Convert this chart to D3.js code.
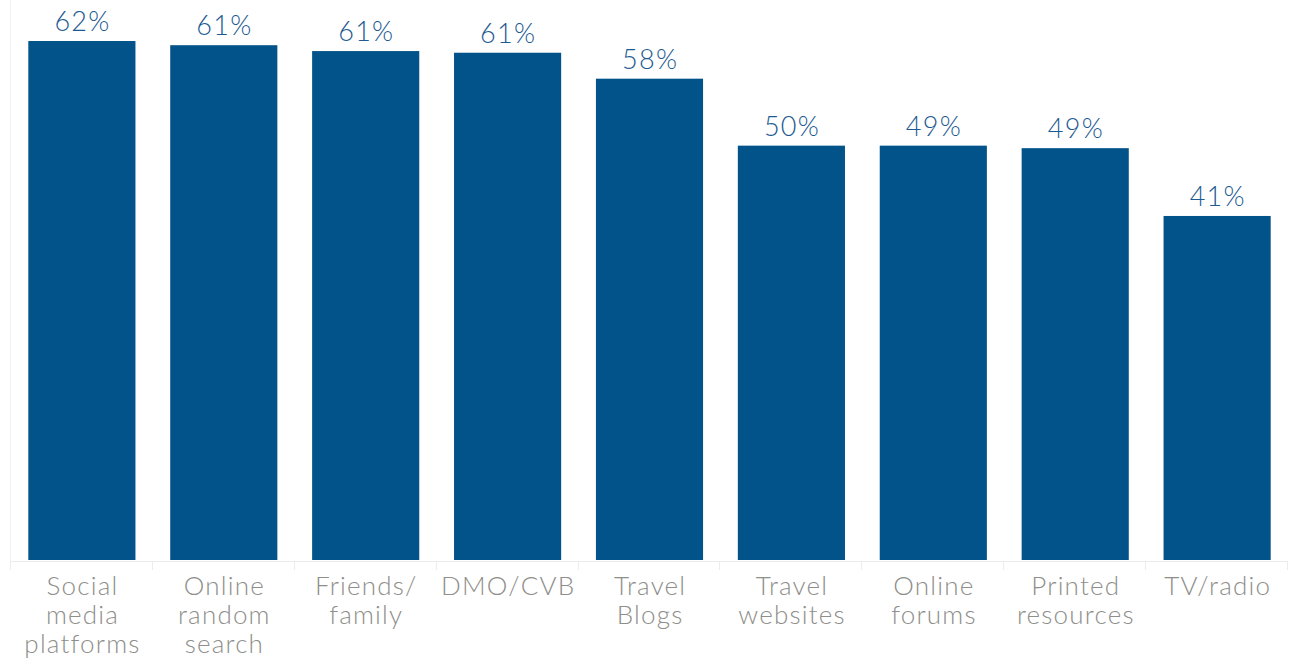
<!DOCTYPE html>
<html>
<head>
<meta charset="utf-8">
<script src="https://cdn.jsdelivr.net/npm/d3@7"></script>
<style>
  html, body { margin: 0; padding: 0; background: #ffffff; }
  svg { display: block; }
</style>
</head>
<body>
<svg id="chart" width="1297" height="661"></svg>
<script>
// ---- data ----
const categories = [
  "Social media platforms",
  "Online random search",
  "Friends/ family",
  "DMO/CVB",
  "Travel Blogs",
  "Travel websites",
  "Online forums",
  "Printed resources",
  "TV/radio"
];
const categoryLines = [
  ["Social", "media", "platforms"],
  ["Online", "random", "search"],
  ["Friends/", "family"],
  ["DMO/CVB"],
  ["Travel", "Blogs"],
  ["Travel", "websites"],
  ["Online", "forums"],
  ["Printed", "resources"],
  ["TV/radio"]
];
const values = [62.0, 61.5, 60.8, 60.6, 57.5, 49.5, 49.5, 49.2, 41.1];
const valueLabels = ["62%", "61%", "61%", "61%", "58%", "50%", "49%", "49%", "41%"];

// ---- layout ----
const svg = d3.select("#chart");
const left = 11, right = 1288, baseY = 560, topY = 0;

const x = d3.scaleBand()
  .domain(categories)
  .range([left, right])
  .paddingInner(0.245)
  .paddingOuter(0.122);

const y = d3.scaleLinear()
  .domain([0, 66.9])
  .range([baseY, topY]);

const barColor = "#02538a";
const labelColor = "#1d5a91";
const axisText = "#8e8e8a";
const gridColor = "#ececec";
const font = "Lato, 'Open Sans', sans-serif";
const valLS = 1.3, catLS = 1.2;

// left vertical rule
svg.append("line")
  .attr("x1", left - 0.5).attr("x2", left - 0.5)
  .attr("y1", 0).attr("y2", baseY + 10)
  .attr("stroke", "#f2f2f2").attr("stroke-width", 1);

// bars
svg.append("g").selectAll("rect")
  .data(values)
  .join("rect")
  .attr("x", (d, i) => x(categories[i]))
  .attr("width", x.bandwidth())
  .attr("y", d => y(d))
  .attr("height", d => y(0) - y(d))
  .attr("fill", barColor);

// value labels
svg.append("g").selectAll("text")
  .data(values)
  .join("text")
  .attr("x", (d, i) => x(categories[i]) + x.bandwidth() / 2 + valLS / 2)
  .attr("y", d => y(d) - 10)
  .attr("text-anchor", "middle")
  .attr("font-family", font)
  .attr("font-weight", 300)
  .attr("font-size", 27)
  .attr("letter-spacing", valLS)
  .attr("fill", labelColor)
  .text((d, i) => valueLabels[i]);

// x axis: baseline and band separators
const edges = d3.range(categories.length + 1).map(i => left + i * (right - left) / categories.length);
const axisG = svg.append("g");
axisG.append("line")
  .attr("x1", left).attr("x2", right)
  .attr("y1", baseY + 1.5).attr("y2", baseY + 1.5)
  .attr("stroke", gridColor).attr("stroke-width", 1);
axisG.selectAll("line.sep")
  .data(edges)
  .join("line")
  .attr("class", "sep")
  .attr("x1", d => Math.round(d) - 0.5).attr("x2", d => Math.round(d) - 0.5)
  .attr("y1", baseY + 1).attr("y2", baseY + 10)
  .attr("stroke", gridColor).attr("stroke-width", 1);

// category labels
const catG = svg.append("g");
categories.forEach((c, i) => {
  const cx = x(c) + x.bandwidth() / 2 + catLS / 2;
  const t = catG.append("text")
    .attr("x", cx)
    .attr("y", 595)
    .attr("text-anchor", "middle")
    .attr("font-family", font)
    .attr("font-weight", 300)
    .attr("font-size", 26)
    .attr("letter-spacing", catLS)
    .attr("fill", axisText);
  categoryLines[i].forEach((ln, j) => {
    t.append("tspan")
      .attr("x", cx)
      .attr("dy", j === 0 ? 0 : 29)
      .text(ln);
  });
});
</script>
</body>
</html>
